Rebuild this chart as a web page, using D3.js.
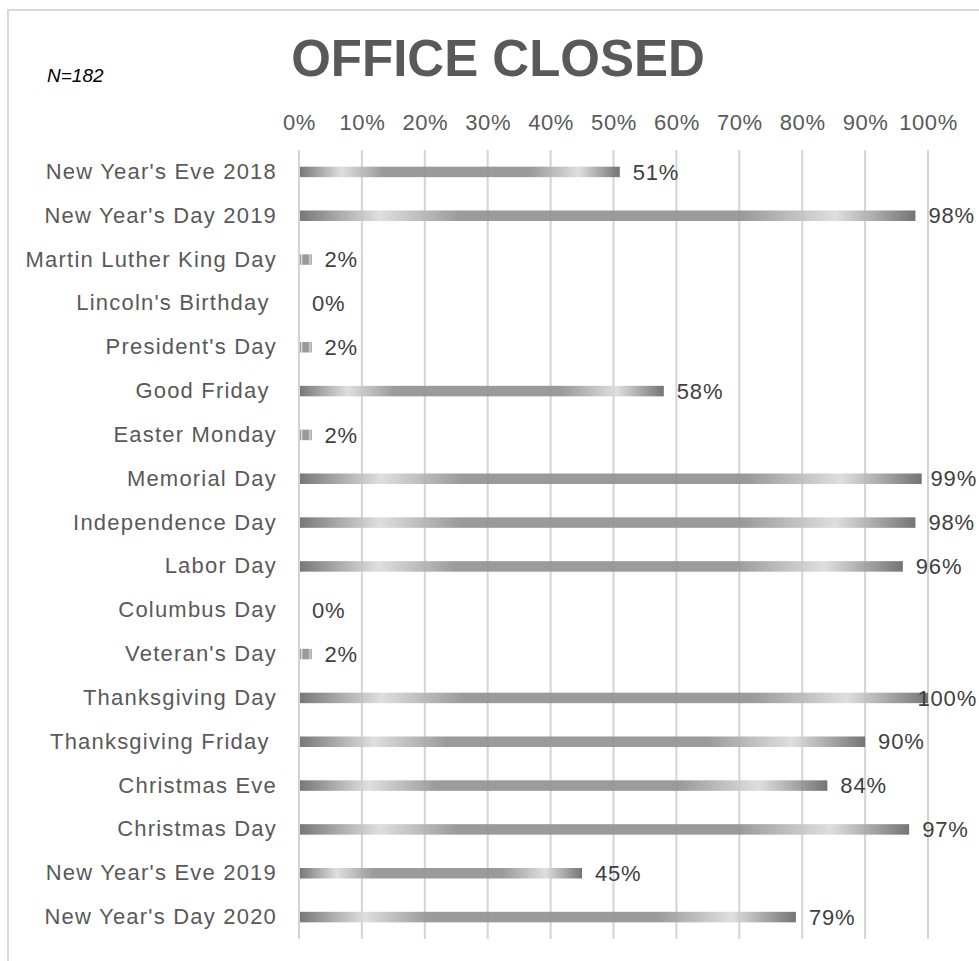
<!DOCTYPE html>
<html>
<head>
<meta charset="utf-8">
<script src="https://cdn.jsdelivr.net/npm/d3@7"></script>
<style>
  body { margin: 0; background: #fff; }
  text { font-family: "Liberation Sans", Arial, sans-serif; white-space: pre; }
</style>
</head>
<body>
<div id="bar"></div>
<script>
const categories = [
  "New Year's Eve 2018", "New Year's Day 2019", "Martin Luther King Day",
  "Lincoln's Birthday ", "President's Day", "Good Friday ", "Easter Monday",
  "Memorial Day", "Independence Day", "Labor Day", "Columbus Day",
  "Veteran's Day", "Thanksgiving Day", "Thanksgiving Friday ", "Christmas Eve",
  "Christmas Day", "New Year's Eve 2019", "New Year's Day 2020"
];
const closedPct = [51, 98, 2, 0, 2, 58, 2, 99, 98, 96, 0, 2, 100, 90, 84, 97, 45, 79];
const tickValues = [0, 10, 20, 30, 40, 50, 60, 70, 80, 90, 100];

function drawBar() {
  const container = d3.select("#bar");
  container.selectAll("*").remove();

  const width = 979;
  const height = 961;
  const margin = { top: 150, right: 51, bottom: 22, left: 299 };

  const svg = container.append("svg")
    .attr("width", width)
    .attr("height", height);

  // chart frame
  svg.append("rect")
    .attr("x", 8).attr("y", 10)
    .attr("width", width + 20).attr("height", height + 20)
    .attr("fill", "#fff")
    .attr("stroke", "#d9d9d9")
    .attr("stroke-width", 2);

  const defs = svg.append("defs");
  const grad = defs.append("linearGradient")
    .attr("id", "barGrad")
    .attr("x1", "0%").attr("x2", "100%")
    .attr("y1", "0%").attr("y2", "0%");
  [
    [0, "#6e6e6e"], [0.13, "#dcdcdc"], [0.26, "#939393"],
    [0.72, "#939393"], [0.87, "#dcdcdc"], [1, "#6a6a6a"]
  ].forEach(([o, c]) => grad.append("stop").attr("offset", o).attr("stop-color", c));

  const x = d3.scaleLinear()
    .domain([0, 100])
    .range([margin.left, width - margin.right]);

  const y = d3.scaleBand()
    .domain(categories)
    .range([margin.top, height - margin.bottom])
    .paddingInner(0.76)
    .paddingOuter(0.38);

  // gridlines
  svg.append("g")
    .selectAll("line")
    .data(tickValues)
    .join("line")
    .attr("x1", d => x(d)).attr("x2", d => x(d))
    .attr("y1", margin.top).attr("y2", height - margin.bottom)
    .attr("stroke", "#d4d4d4")
    .attr("stroke-width", 2);

  // top axis labels
  const xAxis = svg.append("g")
    .attr("transform", `translate(0,${margin.top - 17})`)
    .call(d3.axisTop(x).tickValues(tickValues).tickFormat(d => d + "%").tickSize(0));
  xAxis.select(".domain").remove();
  xAxis.selectAll("text")
    .attr("font-size", 22)
    .attr("letter-spacing", 0.6)
    .attr("fill", "#595959")
    .attr("font-family", "Liberation Sans, Arial, sans-serif");

  // category labels
  const yAxis = svg.append("g")
    .attr("transform", `translate(${margin.left - 22},0)`)
    .call(d3.axisLeft(y).tickSize(0).tickPadding(0));
  yAxis.select(".domain").remove();
  yAxis.selectAll("text")
    .attr("font-size", 22)
    .attr("letter-spacing", 1.2)
    .attr("fill", "#595959")
    .attr("font-family", "Liberation Sans, Arial, sans-serif");

  // bars
  svg.append("g")
    .selectAll("rect")
    .data(closedPct)
    .join("rect")
    .attr("x", x(0) + 1)
    .attr("y", (d, i) => y(categories[i]))
    .attr("width", d => Math.max(0, x(d) - x(0) - 1))
    .attr("height", y.bandwidth())
    .attr("fill", "url(#barGrad)")
    .attr("opacity", 0.93);

  // value labels, pushed back inside the chart when they would run off the edge
  svg.append("g")
    .selectAll("text")
    .data(closedPct)
    .join("text")
    .attr("y", (d, i) => y(categories[i]) + y.bandwidth() / 2)
    .attr("dy", "0.35em")
    .attr("font-size", 22)
    .attr("letter-spacing", 0.8)
    .attr("fill", "#404040")
    .text(d => d + "%")
    .attr("x", function(d) {
      const w = this.getComputedTextLength();
      return Math.min(x(d) + 13, width - 2 - w);
    });

  // title
  svg.append("text")
    .attr("x", 498)
    .attr("y", 76)
    .attr("text-anchor", "middle")
    .attr("font-size", 51)
    .attr("font-weight", "bold")
    .attr("fill", "#595959")
    .text("OFFICE CLOSED");

  svg.append("text")
    .attr("x", 47)
    .attr("y", 82)
    .attr("font-size", 19)
    .attr("font-style", "italic")
    .attr("fill", "#000")
    .text("N=182");
}

drawBar();
</script>
</body>
</html>
